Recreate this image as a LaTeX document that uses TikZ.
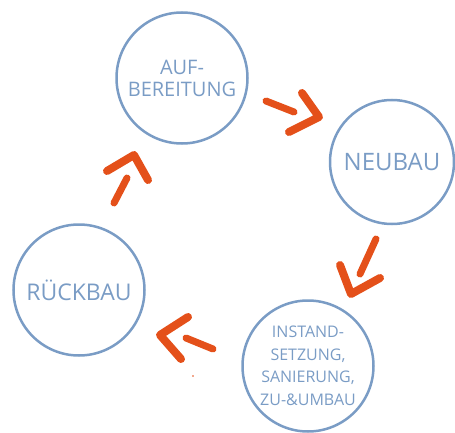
\documentclass[tikz,border=0pt]{standalone}
\usepackage{fontspec}
\setmainfont{Open Sans}
\usetikzlibrary{positioning}

\definecolor{ringblue}{HTML}{7A9CC5}
\definecolor{arroworange}{HTML}{E4501A}

\tikzstyle{stage} = [draw=ringblue, line width=2.5pt, circle, inner sep=0, minimum size=130pt, text=ringblue, align=center]
\tikzstyle{sketcharrow} = [draw=arroworange, line width=8pt, line cap=round, line join=round]

\begin{document}
\begin{tikzpicture}[x=1pt,y=-1pt]
\def\r{131pt}
\useasboundingbox (0,0) rectangle (455,433);

%   stages of the cycle
	\node[stage, minimum size=\r, font=\fontsize{20}{22}\selectfont] (aufb) at (182,78) {AUF-\\BEREITUNG};
	\node[stage, minimum size=124pt, font=\fontsize{24}{26}\selectfont] (neubau) at (392,162) {NEUBAU};
	\node[stage, minimum size=\r, font=\fontsize{16}{22.5}\selectfont] (instand) at (308,366) {INSTAND-\\SETZUNG,\\SANIERUNG,\\ZU-\&UMBAU};
	\node[stage, minimum size=\r, font=\fontsize{23}{25}\selectfont] (rueckbau) at (79,290) {RÜCKBAU};

%   arrows between the stages
	\draw[sketcharrow, line width=7pt] (266,101) -- (294,112);
	\draw[sketcharrow] (302,93) -- (319,117) -- (289,132);

	\draw[sketcharrow, line width=7pt] (376,239) -- (360,274);
	\draw[sketcharrow] (340,265) -- (351,294) -- (380,278);

	\draw[sketcharrow, line width=7pt] (213,349) -- (186,338);
	\draw[sketcharrow] (188,317) -- (160,335) -- (181,359);

	\draw[sketcharrow, line width=7pt] (114,203) -- (127,178);
	\draw[sketcharrow] (107,171) -- (134,155) -- (148,180);

	\fill[arroworange] (193,376) circle (0.8);

\end{tikzpicture}
\end{document}
